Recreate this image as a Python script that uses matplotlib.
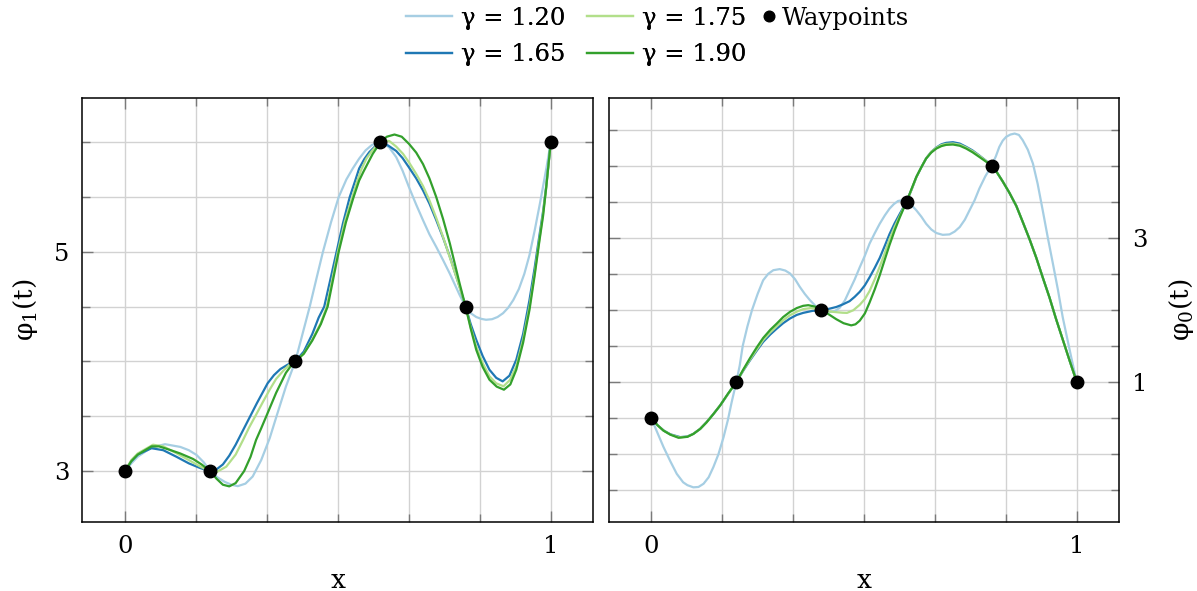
import matplotlib.pyplot as plt
from matplotlib.ticker import MultipleLocator, FixedLocator

plt.rcParams['font.family'] = ['DejaVu Serif']
plt.rcParams['mathtext.fontset'] = 'dejavuserif'

### 데이터 ###
gamma_labels = ['γ = 1.20', 'γ = 1.65', 'γ = 1.75', 'γ = 1.90']
line_colors = ['#a6cee3', '#1f78b4', '#b2df8a', '#33a02c']

wp_x = [0, 0.2, 0.4, 0.6, 0.8, 1.0]
wp_phi1 = [3, 3, 4, 6, 4.5, 6]
wp_phi0 = [0.5, 1, 2, 3.5, 4, 1]

# phi_1 (left)
phi1_x_120 = [0, 0.015, 0.03, 0.06, 0.094, 0.13, 0.15, 0.168, 0.185, 0.2, 0.218, 0.235, 0.25, 0.265, 0.283,
              0.3, 0.32, 0.34, 0.356, 0.378, 0.4, 0.417, 0.434, 0.45, 0.465, 0.484, 0.502, 0.52, 0.535,
              0.55, 0.565, 0.58, 0.6, 0.62, 0.637, 0.652, 0.667, 0.684, 0.7, 0.715, 0.731, 0.747, 0.763,
              0.786, 0.8, 0.812, 0.825, 0.837, 0.848, 0.862, 0.875, 0.888, 0.9, 0.912, 0.925, 0.938,
              0.95, 0.962, 0.975, 0.99, 1.0]
phi1_y_120 = [3.0, 3.07, 3.13, 3.21, 3.245, 3.22, 3.19, 3.147, 3.08, 3.0, 2.94, 2.9, 2.875, 2.862, 2.885,
              2.95, 3.1, 3.3, 3.5, 3.77, 4.0, 4.25, 4.5, 4.76, 5.0, 5.27, 5.5, 5.66, 5.76,
              5.85, 5.925, 5.975, 6.0, 5.955, 5.864, 5.74, 5.59, 5.43, 5.288, 5.16, 5.045, 4.925, 4.8,
              4.606, 4.5, 4.44, 4.405, 4.388, 4.38, 4.385, 4.405, 4.44, 4.49, 4.56, 4.66, 4.8,
              4.97, 5.19, 5.45, 5.77, 6.0]

phi1_x_165 = [0, 0.015, 0.03, 0.0625, 0.09, 0.121, 0.15, 0.175, 0.19, 0.2, 0.215, 0.23, 0.245, 0.26, 0.285,
              0.31, 0.335, 0.35, 0.365, 0.382, 0.4, 0.42, 0.44, 0.455, 0.468, 0.482, 0.497, 0.512, 0.528,
              0.54, 0.55, 0.562, 0.574, 0.587, 0.6, 0.618, 0.637, 0.652, 0.667, 0.684, 0.7, 0.715, 0.731,
              0.747, 0.763, 0.786, 0.8, 0.812, 0.825, 0.84, 0.856, 0.872, 0.887, 0.903, 0.919, 0.935,
              0.95, 0.962, 0.973, 0.982, 0.989, 1.0]
phi1_y_165 = [3.0, 3.09, 3.15, 3.208, 3.19, 3.13, 3.07, 3.03, 3.01, 3.0, 3.015, 3.06, 3.14, 3.24, 3.43,
              3.62, 3.8, 3.875, 3.93, 3.97, 4.0, 4.09, 4.25, 4.4, 4.5, 4.74, 5.0, 5.26, 5.5,
              5.64, 5.76, 5.845, 5.91, 5.96, 6.0, 5.97, 5.92, 5.855, 5.77, 5.67, 5.56, 5.44, 5.29,
              5.13, 4.955, 4.68, 4.5, 4.34, 4.197, 4.05, 3.924, 3.85, 3.818, 3.87, 4.015, 4.25,
              4.56, 4.85, 5.14, 5.37, 5.59, 6.0]

phi1_x_175 = [0, 0.015, 0.03, 0.066, 0.09, 0.121, 0.15, 0.175, 0.19, 0.2, 0.215, 0.238, 0.26, 0.277, 0.292,
              0.308, 0.324, 0.34, 0.355, 0.371, 0.385, 0.4, 0.42, 0.44, 0.46, 0.474, 0.487, 0.5, 0.516,
              0.534, 0.545, 0.555, 0.567, 0.58, 0.59, 0.6, 0.61, 0.621, 0.637, 0.653, 0.668, 0.684, 0.7,
              0.715, 0.731, 0.747, 0.762, 0.778, 0.8, 0.812, 0.825, 0.84, 0.856, 0.872, 0.889, 0.904,
              0.919, 0.935, 0.95, 0.962, 0.973, 0.982, 0.989, 1.0]
phi1_y_175 = [3.0, 3.1, 3.16, 3.24, 3.225, 3.162, 3.1, 3.045, 3.015, 3.0, 2.99, 3.04, 3.15, 3.28, 3.4,
              3.514, 3.63, 3.743, 3.84, 3.911, 3.965, 4.0, 4.07, 4.2, 4.35, 4.5, 4.75, 5.0, 5.27,
              5.5, 5.64, 5.75, 5.85, 5.92, 5.965, 6.0, 6.015, 6.01, 5.96, 5.894, 5.81, 5.71, 5.6,
              5.47, 5.31, 5.136, 4.96, 4.773, 4.5, 4.31, 4.136, 3.985, 3.864, 3.8, 3.773, 3.83,
              3.955, 4.2, 4.5, 4.8, 5.106, 5.35, 5.576, 6.0]

phi1_x_190 = [0, 0.015, 0.03, 0.0625, 0.08, 0.1, 0.13, 0.16, 0.18, 0.2, 0.215, 0.23, 0.245, 0.26, 0.28,
              0.295, 0.308, 0.32, 0.332, 0.355, 0.378, 0.39, 0.4, 0.42, 0.44, 0.46, 0.476, 0.489, 0.502,
              0.519, 0.537, 0.55, 0.56, 0.572, 0.582, 0.6, 0.615, 0.633, 0.65, 0.667, 0.684, 0.7, 0.715,
              0.731, 0.747, 0.763, 0.786, 0.8, 0.812, 0.825, 0.84, 0.856, 0.873, 0.89, 0.905, 0.919,
              0.935, 0.95, 0.962, 0.973, 0.982, 0.989, 1.0]
phi1_y_190 = [3.0, 3.09, 3.15, 3.225, 3.225, 3.2, 3.16, 3.11, 3.06, 3.0, 2.93, 2.875, 2.86, 2.89, 3.0,
              3.13, 3.284, 3.39, 3.5, 3.713, 3.896, 3.96, 4.0, 4.07, 4.19, 4.34, 4.5, 4.75, 5.0,
              5.27, 5.5, 5.65, 5.73, 5.82, 5.894, 6.0, 6.05, 6.07, 6.05, 5.985, 5.905, 5.8, 5.67,
              5.5, 5.3, 5.076, 4.71, 4.5, 4.3, 4.106, 3.95, 3.833, 3.77, 3.742, 3.79, 3.924,
              4.17, 4.47, 4.78, 5.09, 5.33, 5.576, 6.0]

# phi_0 (right)
phi0_x_120 = [0, 0.015, 0.029, 0.045, 0.06, 0.075, 0.085, 0.099, 0.111, 0.123, 0.135, 0.146, 0.158, 0.17,
              0.18, 0.189, 0.2, 0.208, 0.215, 0.226, 0.237, 0.25, 0.263, 0.275, 0.287, 0.302, 0.315,
              0.326, 0.338, 0.349, 0.361, 0.373, 0.386, 0.4, 0.41, 0.42, 0.432, 0.443, 0.455, 0.466,
              0.478, 0.49, 0.502, 0.513, 0.525, 0.537, 0.549, 0.56, 0.57, 0.58, 0.588, 0.6, 0.612,
              0.623, 0.635, 0.646, 0.658, 0.67, 0.685, 0.701, 0.713, 0.725, 0.737, 0.748, 0.76, 0.771,
              0.785, 0.8, 0.81, 0.818, 0.826, 0.834, 0.844, 0.854, 0.864, 0.873, 0.885, 0.897, 0.908,
              0.92, 0.932, 0.944, 0.956, 0.967, 0.977, 0.987, 1.0]
phi0_y_120 = [0.5, 0.29, 0.097, -0.1, -0.273, -0.39, -0.43, -0.46, -0.455, -0.41, -0.32, -0.18, 0.0, 0.236,
              0.47, 0.72, 1.0, 1.23, 1.5, 1.77, 2.0, 2.22, 2.41, 2.5, 2.55, 2.565, 2.545,
              2.505, 2.425, 2.32, 2.22, 2.134, 2.055, 2.0, 1.978, 1.97, 1.985, 2.03, 2.13, 2.27,
              2.42, 2.59, 2.75, 2.917, 3.06, 3.194, 3.31, 3.403, 3.465, 3.509, 3.518, 3.5, 3.45,
              3.38, 3.29, 3.194, 3.115, 3.065, 3.04, 3.046, 3.085, 3.148, 3.25, 3.38, 3.52, 3.68,
              3.85, 4.0, 4.13, 4.259, 4.345, 4.398, 4.43, 4.444, 4.425, 4.352, 4.22, 4.028, 3.75,
              3.38, 3.0, 2.639, 2.27, 1.898, 1.62, 1.343, 1.0]

phi0_x_165 = [0, 0.015, 0.029, 0.045, 0.068, 0.085, 0.099, 0.115, 0.13, 0.146, 0.162, 0.18, 0.2, 0.216,
              0.232, 0.248, 0.263, 0.28, 0.295, 0.31, 0.326, 0.342, 0.357, 0.378, 0.4, 0.418, 0.435,
              0.45, 0.466, 0.478, 0.49, 0.502, 0.513, 0.525, 0.537, 0.549, 0.56, 0.572, 0.584, 0.6,
              0.612, 0.623, 0.635, 0.646, 0.658, 0.67, 0.682, 0.693, 0.709, 0.725, 0.74, 0.755, 0.771,
              0.785, 0.8, 0.813, 0.826, 0.842, 0.858, 0.873, 0.889, 0.905, 0.92, 0.936, 0.951, 0.967,
              0.983, 1.0]
phi0_y_165 = [0.5, 0.4, 0.329, 0.275, 0.236, 0.245, 0.282, 0.35, 0.444, 0.555, 0.676, 0.83, 1.0, 1.155,
              1.3, 1.435, 1.556, 1.66, 1.74, 1.815, 1.88, 1.93, 1.958, 1.985, 2.0, 2.015, 2.04,
              2.075, 2.12, 2.18, 2.25, 2.34, 2.45, 2.58, 2.72, 2.89, 3.05, 3.2, 3.33, 3.5,
              3.67, 3.84, 3.98, 4.1, 4.19, 4.25, 4.295, 4.315, 4.324, 4.305, 4.26, 4.21, 4.14,
              4.075, 4.0, 3.9, 3.78, 3.62, 3.44, 3.22, 2.98, 2.72, 2.45, 2.17, 1.88, 1.59,
              1.3, 1.0]

phi0_x_175 = [0, 0.015, 0.029, 0.045, 0.066, 0.085, 0.099, 0.115, 0.13, 0.146, 0.162, 0.18, 0.2, 0.216,
              0.232, 0.248, 0.263, 0.28, 0.295, 0.31, 0.326, 0.342, 0.357, 0.375, 0.4, 0.418, 0.435,
              0.45, 0.46, 0.475, 0.49, 0.502, 0.513, 0.525, 0.537, 0.549, 0.56, 0.572, 0.584, 0.6,
              0.612, 0.623, 0.635, 0.646, 0.658, 0.67, 0.682, 0.693, 0.709, 0.725, 0.74, 0.755, 0.771,
              0.785, 0.8, 0.813, 0.826, 0.842, 0.858, 0.873, 0.889, 0.905, 0.92, 0.936, 0.951, 0.967,
              0.983, 1.0]
phi0_y_175 = [0.5, 0.4, 0.327, 0.272, 0.232, 0.243, 0.281, 0.35, 0.442, 0.555, 0.676, 0.83, 1.0, 1.16,
              1.31, 1.45, 1.58, 1.69, 1.773, 1.855, 1.926, 1.975, 2.01, 2.025, 2.0, 1.978, 1.968,
              1.96, 1.958, 1.995, 2.07, 2.15, 2.26, 2.42, 2.6, 2.79, 2.98, 3.15, 3.3, 3.5,
              3.67, 3.84, 3.98, 4.1, 4.19, 4.245, 4.285, 4.3, 4.306, 4.29, 4.25, 4.2, 4.135,
              4.072, 4.0, 3.9, 3.78, 3.62, 3.44, 3.22, 2.98, 2.72, 2.45, 2.17, 1.88, 1.59,
              1.3, 1.0]

phi0_x_190 = [0, 0.015, 0.029, 0.045, 0.064, 0.085, 0.099, 0.115, 0.13, 0.146, 0.162, 0.18, 0.2, 0.216,
              0.232, 0.248, 0.263, 0.28, 0.295, 0.31, 0.326, 0.342, 0.357, 0.369, 0.385, 0.4, 0.418,
              0.435, 0.452, 0.47, 0.48, 0.49, 0.502, 0.513, 0.525, 0.537, 0.549, 0.56, 0.572, 0.584,
              0.6, 0.612, 0.623, 0.635, 0.646, 0.658, 0.67, 0.682, 0.693, 0.709, 0.725, 0.74, 0.755,
              0.771, 0.785, 0.8, 0.813, 0.826, 0.842, 0.858, 0.873, 0.889, 0.905, 0.92, 0.936, 0.951,
              0.967, 0.983, 1.0]
phi0_y_190 = [0.5, 0.4, 0.325, 0.27, 0.227, 0.24, 0.28, 0.35, 0.44, 0.555, 0.675, 0.835, 1.0, 1.17,
              1.33, 1.48, 1.61, 1.725, 1.81, 1.9, 1.972, 2.025, 2.056, 2.065, 2.045, 2.0, 1.935,
              1.87, 1.815, 1.785, 1.8, 1.85, 1.95, 2.1, 2.28, 2.48, 2.7, 2.9, 3.1, 3.28,
              3.5, 3.68, 3.843, 3.98, 4.097, 4.18, 4.236, 4.27, 4.287, 4.292, 4.275, 4.236, 4.185,
              4.12, 4.062, 4.0, 3.9, 3.78, 3.62, 3.44, 3.22, 2.98, 2.72, 2.45, 2.17, 1.88,
              1.59, 1.3, 1.0]

phi1_curves = [(phi1_x_120, phi1_y_120), (phi1_x_165, phi1_y_165),
               (phi1_x_175, phi1_y_175), (phi1_x_190, phi1_y_190)]
phi0_curves = [(phi0_x_120, phi0_y_120), (phi0_x_165, phi0_y_165),
               (phi0_x_175, phi0_y_175), (phi0_x_190, phi0_y_190)]

FS = 17.5
LABEL_FS = 19


def style_axis(ax, yticks, ylim):
    ax.set_xlim(-0.1, 1.1)
    ax.set_ylim(*ylim)
    ax.xaxis.set_major_locator(FixedLocator([0, 1]))
    ax.xaxis.set_minor_locator(MultipleLocator(1 / 6))
    ax.yaxis.set_major_locator(FixedLocator(yticks))
    ax.yaxis.set_minor_locator(MultipleLocator(0.5))
    ax.grid(True, which='both', color='#d2d2d2', linewidth=1.0)
    ax.set_axisbelow(True)
    ax.tick_params(which='both', direction='in', top=True, right=True, left=True, bottom=True,
                   color='#7a7a7a', labelsize=FS)
    ax.tick_params(which='major', length=8, width=1.0, pad=9)
    ax.tick_params(which='minor', length=5.5, width=1.0)
    for sp in ax.spines.values():
        sp.set_linewidth(1.1)
        sp.set_color('black')
    ax.set_xlabel('x', fontsize=LABEL_FS, labelpad=7)


### 그림 ###
fig = plt.figure(figsize=(11.97, 5.91), dpi=100)
ax1 = fig.add_axes([0.0688, 0.1162, 0.4269, 0.7174])
ax0 = fig.add_axes([0.5085, 0.1162, 0.4266, 0.7174])

handles = []
for (xs, ys), c, lab in zip(phi1_curves, line_colors, gamma_labels):
    h, = ax1.plot(xs, ys, color=c, linewidth=1.6, label=lab)
    handles.append(h)
for (xs, ys), c in zip(phi0_curves, line_colors):
    ax0.plot(xs, ys, color=c, linewidth=1.6)

wp_h, = ax1.plot(wp_x, wp_phi1, 'o', color='black', markersize=9, zorder=5, label='Waypoints')
ax0.plot(wp_x, wp_phi0, 'o', color='black', markersize=9, zorder=5)

style_axis(ax1, [3, 5], (2.532, 6.40))
style_axis(ax0, [1, 3], (-0.945, 4.932))
ax1.tick_params(axis='y', labelleft=True, labelright=False)
ax0.tick_params(axis='y', labelleft=False, labelright=True)

ax1.set_ylabel('φ$_1$(t)', fontsize=LABEL_FS, labelpad=10)
ax0.yaxis.set_label_position('right')
ax0.set_ylabel('φ$_0$(t)', fontsize=LABEL_FS, labelpad=14, rotation=90)

# 범례
leg1 = fig.legend(handles=handles, loc='upper left', bbox_to_anchor=(406 / 1197, 1 - 7 / 591),
                  ncol=2, frameon=False, fontsize=FS, borderpad=0, borderaxespad=0,
                  handlelength=1.9, handletextpad=0.35, columnspacing=0.9, labelspacing=0.55)
fig.add_artist(leg1)
fig.legend(handles=[wp_h], loc='upper left', bbox_to_anchor=(762 / 1197, 1 - 7 / 591),
           frameon=False, fontsize=FS, borderpad=0, borderaxespad=0,
           handlelength=0.6, handletextpad=0.2, markerscale=0.85)

fig.savefig('out.png', dpi=100)
